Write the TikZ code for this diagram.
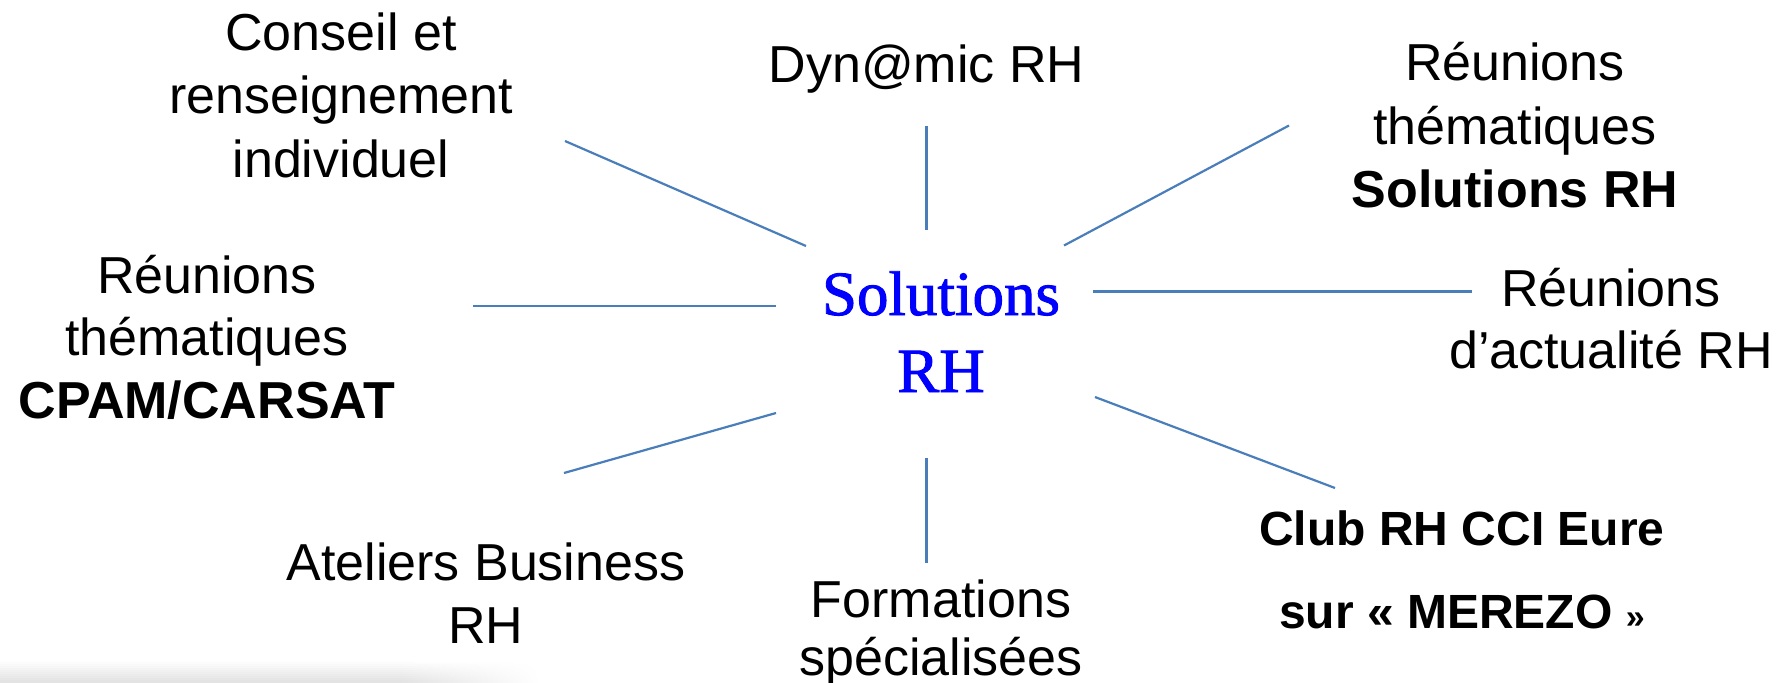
\documentclass[tikz,border=0pt]{standalone}
\usepackage{fontspec}
\setmainfont{Liberation Sans}
\newfontfamily\serifrh[FakeBold=1.4]{Liberation Serif}
\definecolor{linkblue}{HTML}{4A7EBB}
\newcommand\lbltext[2]{\fontsize{26}{#1}\selectfont\begin{tabular}[t]{@{}c@{}}#2\end{tabular}}
\begin{document}
\begin{tikzpicture}[x=0.5pt,y=-0.5pt,
  lbl/.style={inner sep=0pt, anchor=base},
  link/.style={draw=linkblue, line width=1.1pt}]
\useasboundingbox (0,0) rectangle (1789,682);
% faint shadow at the bottom left
\foreach \i in {0,...,10}{
  \pgfmathsetmacro\lev{1.1*\i}
  \fill[black!\lev] (0,660+2*\i) rectangle (400,662.6+2*\i);
  \shade[left color=black!\lev, right color=white] (399.5,660+2*\i) rectangle (540,662.6+2*\i);
}
% labels
\node[lbl] (conseil) at (341,50) {\lbltext{31.75pt}{Conseil et\\renseignement\\individuel}};
\node[lbl] (dynamic) at (926.5,82) {\lbltext{31.75pt}{Dyn@mic RH}};
\node[lbl] (reusol) at (1515,80.7) {\lbltext{31.8pt}{Réunions\\thématiques\\\textbf{Solutions RH}}};
\node[lbl] (actu) at (1611,306.7) {\lbltext{31pt}{Réunions\\d’actualité RH}};
\node[lbl] (cpam) at (207,293) {\lbltext{31.25pt}{Réunions\\thématiques\\\textbf{CPAM/CARSAT}}};
\node[lbl] (ateliers) at (486,580) {\lbltext{31.5pt}{Ateliers Business\\RH}};
\node[lbl] (formations) at (941,617) {\lbltext{29pt}{Formations\\spécialisées}};
\node[lbl] (club) at (1462,545) {\fontsize{24}{41.5}\selectfont\bfseries\begin{tabular}[t]{@{}c@{}}Club RH CCI Eure\\sur « MEREZO {\fontsize{17}{20}\selectfont »}\end{tabular}};
\node[lbl, text=blue] (centre) at (941,315) {\serifrh\fontsize{31.5}{38.5}\selectfont\begin{tabular}[t]{@{}c@{}}Solutions\\RH\end{tabular}};
% connector end points
\coordinate (a1) at (565,141);    \coordinate (a2) at (806,246);
\coordinate (b1) at (926.5,126);  \coordinate (b2) at (926.5,230);
\coordinate (c1) at (1289,125.5); \coordinate (c2) at (1064,245.5);
\coordinate (d1) at (1093,291.5); \coordinate (d2) at (1472,291.5);
\coordinate (e1) at (473,306);    \coordinate (e2) at (776,306);
\coordinate (f1) at (564,473);    \coordinate (f2) at (776,413);
\coordinate (g1) at (926.5,458);  \coordinate (g2) at (926.5,563);
\coordinate (h1) at (1095,397);   \coordinate (h2) at (1335,488);
\draw[link] (a1) -- (a2);
\draw[link] (b1) -- (b2);
\draw[link] (c1) -- (c2);
\draw[link] (d1) -- (d2);
\draw[link] (e1) -- (e2);
\draw[link] (f1) -- (f2);
\draw[link] (g1) -- (g2);
\draw[link] (h1) -- (h2);
\end{tikzpicture}
\end{document}
